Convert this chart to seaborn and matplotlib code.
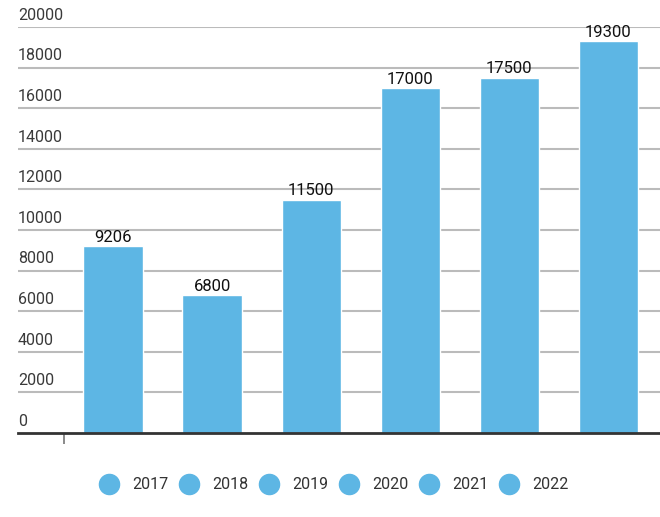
import matplotlib
matplotlib.use("Agg")
import matplotlib.pyplot as plt
import seaborn as sns
import pandas as pd
from matplotlib.lines import Line2D

years = ["2017", "2018", "2019", "2020", "2021", "2022"]
values = [9206, 6800, 11500, 17000, 17500, 19300]
yticks = [0, 2000, 4000, 6000, 8000, 10000, 12000, 14000, 16000, 18000, 20000]

sns.set_theme(style="white")
plt.rcParams['font.family'] = ['Roboto', 'DejaVu Sans']

color = "#5DB6E4"
df = pd.DataFrame({"year": years, "value": values})

fig = plt.figure(figsize=(6.6, 5.17), dpi=100)
W, H = 660, 517
ax = fig.add_axes([18 / W, 1 - 433 / H, (660 - 18) / W, (433 - 27) / H])
sns.barplot(data=df, x="year", y="value", color=color, width=0.6, saturation=1, ax=ax)

ax.set_xlim(-0.96, 5.52)
ax.set_ylim(0, 20000)
for s in ["top", "right", "left"]:
    ax.spines[s].set_visible(False)
ax.spines["bottom"].set_color("#333333")
ax.spines["bottom"].set_linewidth(2)
ax.spines["bottom"].set_zorder(5)

ax.set_yticks(yticks)
ax.set_yticklabels([])
ax.tick_params(axis="y", length=0)
for t in yticks:
    if t > 0:
        ax.axhline(t, color="#BBBBBB", lw=1.5, zorder=0)
    ax.annotate(str(t), xy=(0, t), xycoords=("axes fraction", "data"),
                xytext=(0, 3), textcoords="offset points",
                ha="left", va="bottom", fontsize=11.5, color="#3A3A3A")

ax.set_xticks([-0.5])
ax.set_xticklabels([])
ax.tick_params(axis="x", length=8, width=1.2, color="#777777", direction="out", bottom=True)
ax.set_xlabel("")
ax.set_ylabel("")

for i, v in enumerate(values):
    ax.annotate(str(v), xy=(i, v), xytext=(0, 1), textcoords="offset points",
                ha="center", va="bottom", fontsize=12, color="#111111")

handles = [Line2D([0], [0], marker="o", linestyle="", markersize=14.5,
                  markerfacecolor=color, markeredgecolor=color) for _ in years]
fig.legend(handles, years, loc="center", bbox_to_anchor=(335 / W, 1 - 485 / H),
           ncol=6, frameon=False, fontsize=11.5, handlelength=1.0,
           handletextpad=0.95, columnspacing=0.8, labelcolor="#333333")

fig.savefig("out.png", dpi=100)
